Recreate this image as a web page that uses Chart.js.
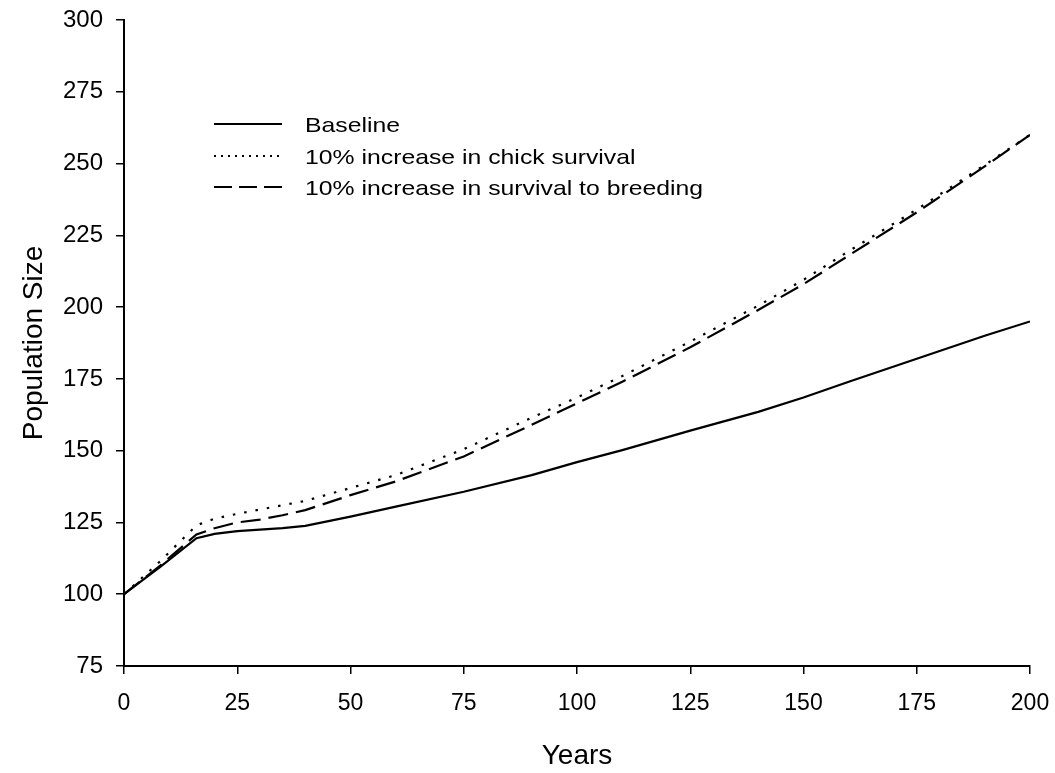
<!DOCTYPE html>
<html>
<head>
<meta charset="utf-8">
<style>
  html, body { margin: 0; padding: 0; background: #fff; }
  #wrap { width: 1055px; height: 773px; }
</style>
</head>
<body>
<div id="wrap"><canvas id="popChart"></canvas></div>
<script src="https://cdn.jsdelivr.net/npm/chart.js"></script>
<script>
    const years = [0, 8, 16, 20, 25, 30, 35, 40, 50, 60, 75, 90, 100, 110, 125, 140, 150, 160, 175, 190, 200];
    const baseline = [100, 109.5, 119.5, 121, 122, 122.5, 123, 123.8, 127, 130.5, 135.7, 141.5, 146, 150.2, 157, 163.5, 168.5, 174, 182, 190, 195];
    const chickSurvival = [100, 111.5, 124, 126.3, 128, 129.5, 131, 132.5, 137, 141.5, 150.5, 161.5, 168.5, 176, 188, 200.5, 209.5, 219.5, 234, 249.5, 260];
    const breedingSurvival = [100, 110, 120.8, 123, 125, 126, 127.5, 129.3, 134.5, 139.3, 148, 159, 166.5, 174, 186, 199, 208, 218, 233, 249, 260];
    const seriesLabels = ['Baseline', '10% increase in chick survival', '10% increase in survival to breeding'];
    const yTicks = [75, 100, 125, 150, 175, 200, 225, 250, 275, 300];
    const xTicks = [0, 25, 50, 75, 100, 125, 150, 175, 200];

    const toPoints = vals => years.map((yr, i) => ({ x: yr, y: vals[i] }));

    // legend drawn inside the plot, top-left (text is a bit wide in the original)
    const legendDash = [[], [2, 5], [18, 7]];
    const insideLegend = {
        id: 'insideLegend',
        afterDraw(chart) {
            const ctx = chart.ctx;
            const rows = [126, 158, 189];
            ctx.save();
            ctx.font = '21px "Liberation Sans", Arial, sans-serif';
            ctx.textBaseline = 'middle';
            ctx.fillStyle = '#000';
            chart.data.datasets.forEach((ds, i) => {
                const y = rows[i];
                ctx.beginPath();
                ctx.strokeStyle = '#000';
                ctx.lineWidth = ds.borderWidth;
                ctx.setLineDash(legendDash[i]);
                ctx.moveTo(214, y - 2);
                ctx.lineTo(282, y - 2);
                ctx.stroke();
                ctx.setLineDash([]);
                ctx.save();
                ctx.translate(305, y);
                ctx.scale(1.18, 1);
                ctx.fillText(ds.label, 0, 0);
                ctx.restore();
            });
            ctx.restore();
        }
    };

    new Chart(document.getElementById('popChart'), {
        type: 'line',
        data: {
            datasets: [{
                label: seriesLabels[0],
                data: toPoints(baseline),
                borderColor: '#000',
                borderWidth: 2.2,
                pointRadius: 0,
                tension: 0
            }, {
                label: seriesLabels[1],
                data: toPoints(chickSurvival),
                borderColor: '#000',
                borderWidth: 2.2,
                borderDash: [2.5, 9],
                pointRadius: 0,
                tension: 0
            }, {
                label: seriesLabels[2],
                data: toPoints(breedingSurvival),
                borderColor: '#000',
                borderWidth: 2.2,
                borderDash: [20, 8],
                pointRadius: 0,
                tension: 0
            }]
        },
        options: {
            responsive: true,
            maintainAspectRatio: false,
            animation: false,
            layout: { padding: { top: 20, right: 25, left: 0, bottom: 0 } },
            plugins: {
                legend: { display: false },
                tooltip: { enabled: false }
            },
            scales: {
                x: {
                    type: 'linear',
                    min: 0,
                    max: 200,
                    afterBuildTicks: scale => { scale.ticks = xTicks.map(v => ({ value: v })); },
                    afterFit: scale => {
                        scale.height = 107;
                        scale.paddingLeft = 0;
                        scale.paddingRight = 0;
                    },
                    border: { color: '#000', width: 2 },
                    grid: { drawOnChartArea: false, drawTicks: true, tickLength: 8, color: '#000', lineWidth: 1.5 },
                    ticks: {
                        color: '#000',
                        padding: 16,
                        maxRotation: 0,
                        font: { family: '"Liberation Sans", Arial, sans-serif', size: 23 }
                    },
                    title: {
                        display: true,
                        text: 'Years',
                        color: '#000',
                        padding: { top: 0, bottom: 0 },
                        font: { family: '"Liberation Sans", Arial, sans-serif', size: 28 }
                    }
                },
                y: {
                    min: 75,
                    max: 300,
                    afterBuildTicks: scale => { scale.ticks = yTicks.map(v => ({ value: v })); },
                    afterFit: scale => {
                        scale.width = 124;
                        scale.paddingTop = 0;
                        scale.paddingBottom = 0;
                    },
                    border: { color: '#000', width: 2 },
                    grid: { drawOnChartArea: false, drawTicks: true, tickLength: 8, color: '#000', lineWidth: 1.5 },
                    ticks: {
                        color: '#000',
                        padding: 13,
                        font: { family: '"Liberation Sans", Arial, sans-serif', size: 24 }
                    },
                    title: {
                        display: true,
                        text: 'Population Size',
                        color: '#000',
                        padding: { top: 17, bottom: 0 },
                        font: { family: '"Liberation Sans", Arial, sans-serif', size: 28 }
                    }
                }
            }
        },
        plugins: [insideLegend]
    });
</script>
</body>
</html>
